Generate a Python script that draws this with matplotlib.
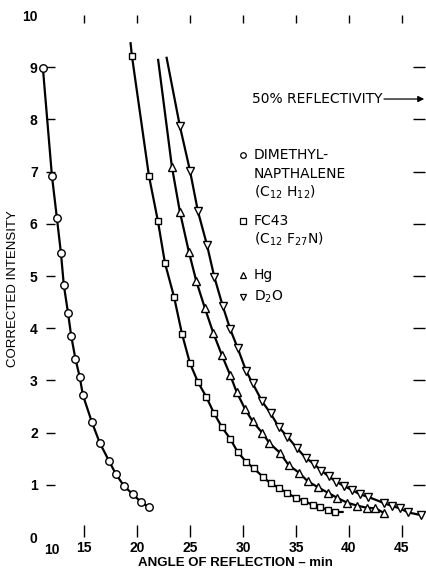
import matplotlib
matplotlib.use("Agg")
import matplotlib.pyplot as plt

# data
dmn_x = [11.13, 11.98, 12.45, 12.83, 13.1, 13.5, 13.8, 14.2, 14.6, 14.9, 15.75, 16.5,
         17.36, 18.0, 18.77, 19.6, 20.4, 21.1]
dmn_y = [8.98, 6.92, 6.11, 5.44, 4.83, 4.29, 3.85, 3.41, 3.07, 2.72, 2.20, 1.80,
         1.46, 1.21, 0.98, 0.82, 0.67, 0.57]

fc43_x = [19.53, 21.13, 21.98, 22.64, 23.5, 24.25, 25.0, 25.75, 26.55, 27.25, 28.0,
          28.8, 29.5, 30.3, 31.0, 31.9, 32.6, 33.4, 34.2, 35.0, 35.8, 36.6, 37.3,
          38.0, 38.7]
fc43_y = [9.21, 6.92, 6.05, 5.25, 4.6, 3.89, 3.33, 2.97, 2.68, 2.38, 2.11, 1.88, 1.63,
          1.44, 1.32, 1.15, 1.03, 0.94, 0.84, 0.75, 0.69, 0.61, 0.57, 0.52, 0.48]
fc43_line_x = [19.4] + fc43_x + [39.4]
fc43_line_y = [9.46] + fc43_y + [0.48]

hg_x = [23.3, 24.05, 24.9, 25.6, 26.4, 27.2, 28.0, 28.8, 29.4, 30.2, 30.9, 31.8,
        32.5, 33.5, 34.3, 35.3, 36.1, 37.1, 38.0, 38.9, 39.8, 40.8, 41.7, 42.5, 43.3]
hg_y = [7.09, 6.23, 5.46, 4.9, 4.39, 3.91, 3.49, 3.1, 2.78, 2.45, 2.22, 2.0, 1.8,
        1.61, 1.38, 1.23, 1.07, 0.95, 0.85, 0.75, 0.66, 0.6, 0.56, 0.55, 0.46]
hg_line_x = [22.0] + hg_x
hg_line_y = [9.14] + hg_y

d2o_x = [24.05, 25.0, 25.75, 26.6, 27.3, 28.1, 28.8, 29.5, 30.3, 30.9, 31.8, 32.6,
         33.4, 34.2, 35.1, 35.9, 36.7, 37.4, 38.1, 38.8, 39.5, 40.3, 41.0, 41.8,
         43.3, 44.1, 44.8, 45.6, 46.8]
d2o_y = [7.87, 7.02, 6.24, 5.60, 4.98, 4.42, 3.98, 3.62, 3.18, 2.95, 2.60, 2.37,
         2.10, 1.92, 1.70, 1.52, 1.40, 1.27, 1.16, 1.06, 0.98, 0.90, 0.82, 0.77,
         0.65, 0.59, 0.55, 0.47, 0.42]
d2o_line_x = [22.8] + d2o_x
d2o_line_y = [9.18] + d2o_y

x_ticks = [15, 20, 25, 30, 35, 40, 45]
y_ticks = list(range(0, 11))

fig = plt.figure(figsize=(4.27, 5.71), dpi=100)
ax = fig.add_axes([0.1077, 0.0595, 0.8876, 0.9142])
ax.set_xlim(11.42, 47.17)
ax.set_ylim(0, 10)
for s in ax.spines.values():
    s.set_visible(False)

lw = 1.6
mk = dict(ls="none", mfc="white", mec="black", mew=1.0, clip_on=False, zorder=3)

ax.plot(dmn_x, dmn_y, color="black", lw=lw, clip_on=False)
ax.plot(dmn_x, dmn_y, marker="o", ms=5.4, **mk)

ax.plot(fc43_line_x, fc43_line_y, color="black", lw=lw, clip_on=False)
ax.plot(fc43_x, fc43_y, marker="s", ms=5.0, **mk)

ax.plot(hg_line_x, hg_line_y, color="black", lw=lw, clip_on=False)
ax.plot(hg_x, hg_y, marker="^", ms=5.5, **mk)

ax.plot(d2o_line_x, d2o_line_y, color="black", lw=lw, clip_on=False)
ax.plot(d2o_x, d2o_y, marker="v", ms=5.5, **mk)

# ticks
tickfont = dict(family="Liberation Sans", weight="bold", size=10)
ax.set_xticks(x_ticks)
ax.set_xticklabels([str(t) for t in x_ticks], **tickfont)
ax.set_yticks(y_ticks)
ax.set_yticklabels([str(t) for t in y_ticks], **tickfont)
ax.tick_params(axis="x", direction="in", length=8.5, width=1.0, top=True, pad=3)
ax.tick_params(axis="y", direction="in", length=6.5, width=1.0, right=True, pad=6)
for t in ax.yaxis.get_major_ticks():
    t.tick2line.set_markersize(9)
for idx in (0, -1):
    t = ax.yaxis.get_major_ticks()[idx]
    t.tick1line.set_visible(False)
    t.tick2line.set_visible(False)
for t in ax.xaxis.get_major_ticks():
    t.tick2line.set_markersize(6)

ax.text(-0.005, -0.012, "10", transform=ax.transAxes, ha="left", va="top", **tickfont)

ax.set_xlabel("ANGLE OF REFLECTION – min", family="Liberation Sans",
              weight="bold", size=9.5)
ax.xaxis.set_label_coords(0.5, -0.038)
ax.set_ylabel("CORRECTED INTENSITY", family="Liberation Sans", size=9.5)
ax.yaxis.set_label_coords(-0.07, 0.475)

# legend drawn as text
lf = dict(family="DejaVu Sans", size=10, va="center", ha="left", transform=ax.transAxes)

def ax_xy(px, py):
    return ((px - 46) / 379.0, (537 - py) / 522.0)

ax.annotate("", xy=ax_xy(427, 99), xytext=ax_xy(384, 99), xycoords="axes fraction",
            arrowprops=dict(arrowstyle="-|>", color="black", lw=0.9,
                            mutation_scale=9, shrinkA=0), annotation_clip=False)
ax.text(*ax_xy(252, 99), "50% REFLECTIVITY", **lf)

legend_rows = [
    ("o", 155, ["DIMETHYL-", "NAPTHALENE", "(C$_{12}$ H$_{12}$)"]),
    ("s", 221, ["FC43", "(C$_{12}$ F$_{27}$N)"]),
    ("^", 275, ["Hg"]),
    ("v", 297, ["D$_2$O"]),
]
for m, py, lines in legend_rows:
    ax.plot(*ax_xy(243, py), marker=m, ms=4, mfc="white", mec="black", mew=0.9,
            transform=ax.transAxes, clip_on=False)
    for i, line in enumerate(lines):
        ax.text(*ax_xy(254, py + i * 18.5), line, **lf)

fig.savefig("out.png", dpi=100)
